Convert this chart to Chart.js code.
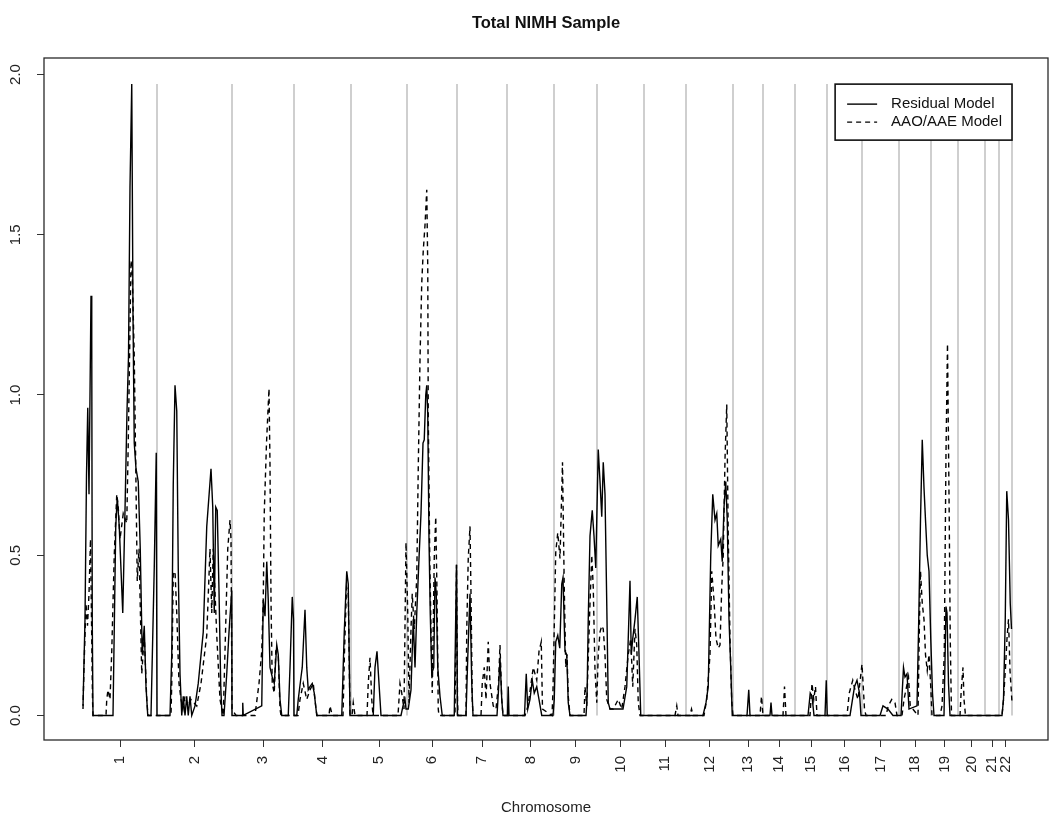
<!DOCTYPE html>
<html><head><meta charset="utf-8">
<script src="https://cdn.jsdelivr.net/npm/chart.js@4.4.1/dist/chart.umd.min.js"></script>
<style>html,body{margin:0;padding:0;background:#fff;}canvas{display:block;}</style>
</head><body>
<canvas id="c" width="1050" height="827"></canvas>
<script>
const chartTitle = 'Total NIMH Sample';
const xAxisTitle = 'Chromosome';
const chromosomeNames = ['1','2','3','4','5','6','7','8','9','10','11','12','13','14','15','16','17','18','19','20','21','22'];
const chromosomeLengths = [296,300,248,228,224,200,200,188,172,188,168,188,120,128,128,140,148,128,108,108,56,52];
const yTickValues = [0, 0.5, 1.0, 1.5, 2.0];
const seriesNames = ['Residual Model', 'AAO/AAE Model'];

// [genome position, statistic]
const residualModel = [
[0,0.03],[8,0.3],[14,0.75],[19,0.96],[24,0.69],[28,1.0],[32,1.31],[35,1.17],[37,0.3],[40,0],
[120,0],[131,0.59],[137,0.68],[145,0.59],[159,0.32],[168,0.64],[176,0.95],[182,1.12],[188,1.65],[195,1.97],
[200,1.25],[205,0.85],[212,0.77],[221,0.73],[229,0.52],[237,0.19],[245,0.28],[252,0.09],[259,0],[272,0],
[285,0.46],[293,0.82],[296,0],
[301,0],[348,0],[355,0.19],[361,0.72],[368,1.03],[375,0.95],[381,0.46],[388,0.13],[395,0],[401,0.06],[408,0],[415,0.06],[421,0],[428,0.06],[435,0],[448,0.03],[461,0.1],[481,0.26],[495,0.59],[512,0.77],[519,0.65],[525,0.32],[531,0.65],[537,0.64],[544,0.39],[551,0.09],[556,0],[564,0],[575,0.13],[584,0.26],[595,0.39],[596,0],
[600,0],[636,0],[639,0.04],[641,0],[715,0.03],[721,0.36],[728,0.31],[735,0.48],[741,0.36],[748,0.15],[757,0.12],[765,0.1],[775,0.22],[781,0.19],[788,0.05],[795,0],[821,0],[828,0.15],[837,0.37],[842,0.3],[844,0],
[855,0],[861,0.05],[872,0.12],[877,0.15],[888,0.33],[895,0.15],[901,0.08],[908,0.09],[917,0.1],[925,0.07],[935,0],[1035,0],[1045,0.26],[1055,0.45],[1061,0.41],[1068,0],
[1161,0],[1168,0.15],[1176,0.2],[1184,0.1],[1192,0],[1272,0],[1280,0.03],[1288,0.05],[1292,0.02],
[1301,0.02],[1312,0.08],[1321,0.3],[1328,0.15],[1335,0.32],[1344,0.49],[1352,0.63],[1360,0.85],[1365,0.86],[1371,1.0],[1375,1.03],[1379,0.94],[1384,0.55],[1389,0.32],[1395,0.13],[1403,0.15],[1408,0.43],[1413,0.38],[1419,0.15],[1428,0.06],[1437,0],[1485,0],[1494,0.47],[1498,0],
[1532,0],[1539,0.18],[1548,0.38],[1555,0.1],[1560,0],[1656,0],[1662,0.08],[1668,0.18],[1675,0.05],[1680,0],[1698,0],[1701,0.09],[1704,0],
[1766,0],[1773,0.13],[1779,0.02],[1788,0.05],[1797,0.11],[1805,0.07],[1815,0.09],[1824,0.05],[1835,0],[1880,0],
[1885,0.05],[1891,0.23],[1899,0.25],[1907,0.21],[1915,0.41],[1920,0.43],[1928,0.2],[1935,0.19],[1941,0.04],[1948,0],[2012,0],[2016,0.05],[2021,0.3],[2028,0.56],[2037,0.64],[2044,0.56],[2051,0.46],[2055,0.61],
[2061,0.83],[2068,0.73],[2075,0.62],[2081,0.79],[2088,0.69],[2095,0.35],[2101,0.04],[2108,0.02],[2160,0.02],[2175,0.09],[2181,0.24],[2188,0.42],[2193,0.19],[2199,0.24],[2208,0.3],[2217,0.37],[2224,0.19],[2231,0],
[2480,0],[2492,0.04],[2501,0.09],[2511,0.5],[2519,0.69],[2528,0.61],[2535,0.63],[2541,0.53],[2551,0.55],[2557,0.48],[2564,0.65],[2571,0.73],[2577,0.61],[2584,0.3],[2591,0.15],[2597,0],
[2656,0],[2663,0.08],[2668,0],[2748,0],[2752,0.04],[2756,0],
[2900,0],[2909,0.07],[2916,0.06],[2924,0],[2968,0],[2973,0.11],[2977,0],
[3068,0],[3076,0.04],[3086,0.09],[3096,0.11],[3106,0.07],[3112,0],
[3188,0],[3200,0.03],[3220,0.02],[3240,0],
[3272,0],[3282,0.15],[3288,0.12],[3296,0.13],[3304,0.02],[3336,0.03],[3343,0.3],[3350,0.61],[3357,0.86],[3364,0.71],[3370,0.61],[3377,0.5],[3384,0.45],[3391,0.24],[3398,0.07],[3404,0],
[3444,0],[3452,0.34],[3456,0.32],[3462,0.1],[3468,0],
[3676,0],[3682,0.05],[3689,0.3],[3695,0.7],[3702,0.61],[3709,0.35],[3714,0.27]
];

const aaoAaeModel = [
[0,0.02],[4,0.15],[12,0.35],[18,0.28],[24,0.38],[30,0.55],[34,0.3],[38,0.05],[40,0],[92,0],[95,0.05],[100,0.08],[108,0.05],[115,0.2],[125,0.5],[135,0.69],[141,0.65],[148,0.55],[161,0.63],[175,0.6],[181,0.85],[192,1.42],[197,1.38],[205,1.12],[212,0.72],[217,0.42],[224,0.52],[235,0.13],[245,0.25],[255,0.05],[260,0],
[352,0],[355,0.1],[361,0.44],[368,0.45],[375,0.32],[384,0.1],[392,0.05],[400,0.02],[408,0.06],[420,0.03],[432,0.05],[455,0.03],[472,0.1],[495,0.25],[508,0.52],[515,0.32],[521,0.52],[535,0.25],[548,0.05],[561,0],[568,0.2],[579,0.52],[588,0.61],[592,0.55],[596,0.02],
[612,0],[688,0],[696,0.05],[704,0.1],[715,0.2],[721,0.36],[725,0.63],[734,0.85],[744,1.02],[748,0.78],[752,0.36],[757,0.1],[765,0.07],[771,0.2],[781,0.19],[788,0.02],[792,0],
[860,0],[868,0.05],[881,0.1],[895,0.05],[908,0.08],[921,0.1],[932,0.02],[936,0],[984,0],[988,0.03],[994,0.01],[998,0],[1040,0],[1046,0.2],[1054,0.4],[1061,0.38],[1068,0],
[1076,0],[1081,0.04],[1088,0],[1136,0],[1141,0.1],[1148,0.18],[1155,0.05],[1160,0],[1260,0],[1268,0.1],[1275,0.07],[1284,0.02],[1292,0.54],[1299,0.32],[1304,0.04],
[1312,0.27],[1317,0.38],[1325,0.27],[1335,0.43],[1341,0.77],[1348,1.11],[1355,1.35],[1361,1.45],[1368,1.53],[1375,1.64],[1379,1.4],[1381,0.94],[1387,0.49],[1392,0.27],[1397,0.07],[1405,0.49],[1411,0.62],[1416,0.38],[1421,0.02],[1424,0],[1488,0],[1494,0.47],[1498,0.05],[1500,0],
[1532,0],[1535,0.27],[1541,0.49],[1548,0.59],[1552,0.38],[1557,0.05],[1560,0],[1592,0],[1597,0.1],[1605,0.15],[1612,0.05],[1621,0.23],[1628,0.1],[1641,0.03],[1652,0.02],[1662,0.1],[1668,0.22],[1675,0.05],[1680,0],
[1768,0],[1780,0.03],[1801,0.15],[1815,0.11],[1824,0.2],[1833,0.23],[1838,0.02],[1876,0],[1880,0.08],
[1891,0.51],[1899,0.57],[1908,0.49],[1918,0.79],[1925,0.4],[1931,0.15],[1936,0.19],[1941,0.06],[1948,0],[2004,0],[2008,0.09],[2015,0.03],[2028,0.35],[2035,0.5],[2041,0.4],[2048,0.14],[2055,0.04],
[2061,0.19],[2068,0.26],[2075,0.28],[2081,0.27],[2088,0.19],[2095,0.05],[2108,0.02],[2121,0.02],[2141,0.05],[2155,0.02],[2168,0.09],[2181,0.19],[2191,0.24],[2199,0.09],[2208,0.27],[2215,0.22],[2221,0.04],[2228,0],
[2368,0],[2375,0.03],[2380,0],[2428,0],[2434,0.02],[2440,0],
[2484,0],[2495,0.05],[2508,0.19],[2515,0.45],[2524,0.36],[2532,0.24],[2541,0.21],[2548,0.22],[2555,0.4],[2561,0.5],[2568,0.8],[2575,0.97],[2581,0.56],[2588,0.24],[2595,0.04],[2600,0],
[2708,0],[2714,0.06],[2720,0],[2800,0],[2806,0.09],[2812,0],
[2908,0],[2916,0.1],[2923,0.05],[2930,0.09],[2936,0],
[3056,0],[3065,0.07],[3079,0.11],[3088,0.08],[3100,0.05],[3116,0.16],[3126,0.02],[3132,0],
[3212,0],[3221,0.03],[3235,0.05],[3248,0.04],[3256,0],
[3276,0],[3284,0.05],[3302,0.12],[3309,0.03],[3340,0],[3346,0.3],[3350,0.45],[3357,0.35],[3364,0.3],[3370,0.19],[3377,0.14],[3384,0.19],[3391,0.09],[3396,0],
[3428,0],[3436,0.03],[3445,0.19],[3452,0.82],[3458,1.16],[3465,0.61],[3469,0.24],[3474,0],
[3508,0],[3513,0.08],[3520,0.15],[3524,0.05],[3530,0],
[3676,0],[3682,0.05],[3690,0.15],[3696,0.24],[3702,0.3],[3708,0.14],[3716,0.04]
];

// derived structures
const chromEnds = [];
let acc = 0;
chromosomeLengths.forEach(l => { acc += l; chromEnds.push(acc); });
const chromMids = chromEnds.map((e, i) => e - chromosomeLengths[i] / 2);
const genomeEnd = acc;
const peakValue = Math.max(...residualModel.map(p => p[1]), ...aaoAaeModel.map(p => p[1]));
const boundaryData = [];
chromEnds.forEach(e => { boundaryData.push({x: e, y: 0}, {x: e, y: peakValue}, {x: e, y: null}); });

const FONT = '"Liberation Sans", Arial, Helvetica, sans-serif';
Chart.defaults.font.family = FONT;
Chart.defaults.color = '#222';

const framePlugin = {
  id: 'frame',
  afterDatasetsDraw(chart) {
    const {ctx, chartArea: a} = chart;
    ctx.save();
    ctx.strokeStyle = '#2a2a2a';
    ctx.lineWidth = 1.3;
    ctx.strokeRect(a.left, a.top, a.right - a.left, a.bottom - a.top);
    ctx.restore();
  }
};

const titlePlugin = {
  id: 'rtitle',
  afterDraw(chart) {
    const {ctx, chartArea: a} = chart;
    ctx.save();
    ctx.font = 'bold 16.5px ' + FONT;
    ctx.fillStyle = '#111';
    ctx.textAlign = 'center';
    ctx.textBaseline = 'middle';
    ctx.fillText(chartTitle, (a.left + a.right) / 2, 23);
    ctx.restore();
  }
};

const legendPlugin = {
  id: 'rlegend',
  afterDraw(chart) {
    const {ctx} = chart;
    const xs = chart.scales.x, ys = chart.scales.y;
    const right = xs.getPixelForValue(genomeEnd);
    const top = ys.getPixelForValue(peakValue);
    ctx.save();
    ctx.font = '15px ' + FONT;
    const tw = Math.max(...seriesNames.map(s => ctx.measureText(s).width));
    const w = 56 + tw + 10;
    const h = 56;
    const left = right - w;
    ctx.fillStyle = '#fff';
    ctx.fillRect(left, top, w, h);
    ctx.strokeStyle = '#111';
    ctx.lineWidth = 1.6;
    ctx.strokeRect(left, top, w, h);
    const ds = chart.data.datasets;
    [0, 1].forEach(i => {
      const yy = top + 20 + i * 18;
      ctx.beginPath();
      ctx.setLineDash(ds[i].borderDash || []);
      ctx.strokeStyle = ds[i].borderColor;
      ctx.lineWidth = 1.4;
      ctx.moveTo(left + 12, yy);
      ctx.lineTo(left + 42, yy);
      ctx.stroke();
      ctx.setLineDash([]);
      ctx.fillStyle = '#111';
      ctx.textAlign = 'left';
      ctx.textBaseline = 'middle';
      ctx.fillText(seriesNames[i], left + 56, yy);
    });
    ctx.restore();
  }
};

new Chart(document.getElementById('c'), {
  type: 'line',
  data: {
    datasets: [
      { label: seriesNames[0], data: residualModel.map(p => ({x: p[0], y: p[1]})), borderColor: '#000', borderWidth: 1.4, pointRadius: 0, tension: 0, order: 1 },
      { label: seriesNames[1], data: aaoAaeModel.map(p => ({x: p[0], y: p[1]})), borderColor: '#000', borderWidth: 1.4, borderDash: [5, 4], pointRadius: 0, tension: 0, order: 2 },
      { label: 'boundaries', data: boundaryData, borderColor: '#c0c0c0', borderWidth: 1.5, pointRadius: 0, spanGaps: false, order: 3 }
    ]
  },
  options: {
    responsive: false,
    animation: false,
    devicePixelRatio: 1,
    events: [],
    layout: { padding: { top: 58, right: 2, bottom: 0, left: 0 } },
    plugins: { legend: { display: false }, tooltip: { enabled: false }, title: { display: false } },
    scales: {
      x: {
        type: 'linear', min: -156, max: 3860,
        afterBuildTicks: s => { s.ticks = chromMids.map(v => ({value: v})); },
        afterFit: s => { s.height = 87; },
        ticks: { autoSkip: false, minRotation: 90, maxRotation: 90, padding: 9, color: '#222', font: { size: 15 },
                 callback: (v, i) => chromosomeNames[i] },
        grid: { drawOnChartArea: false, drawTicks: true, tickLength: 7, tickColor: '#333', tickWidth: 1 },
        border: { display: false },
        title: { display: true, text: xAxisTitle, color: '#222', font: { size: 15 }, padding: { top: 0, bottom: 10 } }
      },
      y: {
        type: 'linear', min: -0.0765, max: 2.0515,
        afterBuildTicks: s => { s.ticks = yTickValues.map(v => ({value: v})); },
        afterFit: s => { s.width = 44; },
        ticks: { minRotation: 90, maxRotation: 90, crossAlign: 'center', padding: 11, color: '#222', font: { size: 15 },
                 callback: v => Number(v).toFixed(1) },
        grid: { drawOnChartArea: false, drawTicks: true, tickLength: 7, tickColor: '#333', tickWidth: 1 },
        border: { display: false }
      }
    }
  },
  plugins: [framePlugin, titlePlugin, legendPlugin]
});
</script>
</body></html>
